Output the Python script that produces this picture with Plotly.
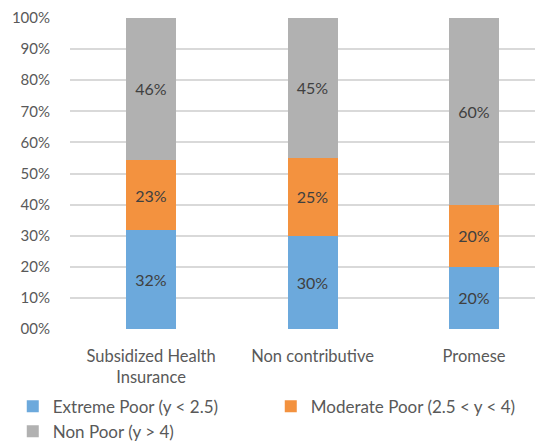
import plotly.graph_objects as go

categories = ["Subsidized Health<br>Insurance", "Non contributive", "Promese"]
series_names = ["Extreme Poor (y < 2.5)", "Moderate Poor (2.5 < y < 4)", "Non Poor (y > 4)"]
extreme = [32, 30, 20]
moderate = [23, 25, 20]
nonpoor = [46, 45, 60]
colors = ["#6CA9DC", "#F3923F", "#B1B1B1"]
y_ticks = [0, 10, 20, 30, 40, 50, 60, 70, 80, 90, 100]
y_tick_labels = ["00%", "10%", "20%", "30%", "40%", "50%", "60%", "70%", "80%", "90%", "100%"]

FONT = "Lato, 'Open Sans', sans-serif"
fig = go.Figure()
for name, vals, col in zip(series_names, [extreme, moderate, nonpoor], colors):
    fig.add_trace(go.Bar(
        x=list(range(len(categories))), y=vals, name=name,
        marker=dict(color=col, line=dict(width=0)),
        text=[f"{v}%" for v in vals], textposition="inside",
        insidetextanchor="middle",
        textfont=dict(size=16, color="#404040", family=FONT),
        width=0.31, hoverinfo="skip",
    ))

fig.update_layout(
    barmode="stack", barnorm="percent",
    width=535, height=435,
    margin=dict(l=62, r=0, t=10, b=114, autoexpand=False),
    paper_bgcolor="white", plot_bgcolor="white",
    font=dict(family=FONT, size=16, color="#595959"),
    xaxis=dict(tickmode="array", tickvals=list(range(len(categories))), ticktext=categories,
               range=[-0.502, 2.427], showgrid=False, zeroline=False, showline=False,
               tickfont=dict(size=16.5, color="#595959"), ticks="", ticklen=0,
               automargin=False, ticklabelstandoff=15),
    yaxis=dict(range=[0, 100], tickvals=y_ticks, ticktext=y_tick_labels,
               showgrid=True, gridcolor="#D9D9D9", gridwidth=1.5, zeroline=False,
               tickfont=dict(size=15, color="#595959"), ticks="", ticklabelstandoff=19,
               automargin=False),
    legend=dict(orientation="h", x=-0.121, xanchor="left", y=-0.192, yanchor="top",
                font=dict(size=17, color="#595959", family=FONT),
                entrywidth=213, traceorder="normal", tracegroupgap=0,
                itemclick=False, bgcolor="rgba(0,0,0,0)"),
    showlegend=True,
)
fig.write_html("out.html")
